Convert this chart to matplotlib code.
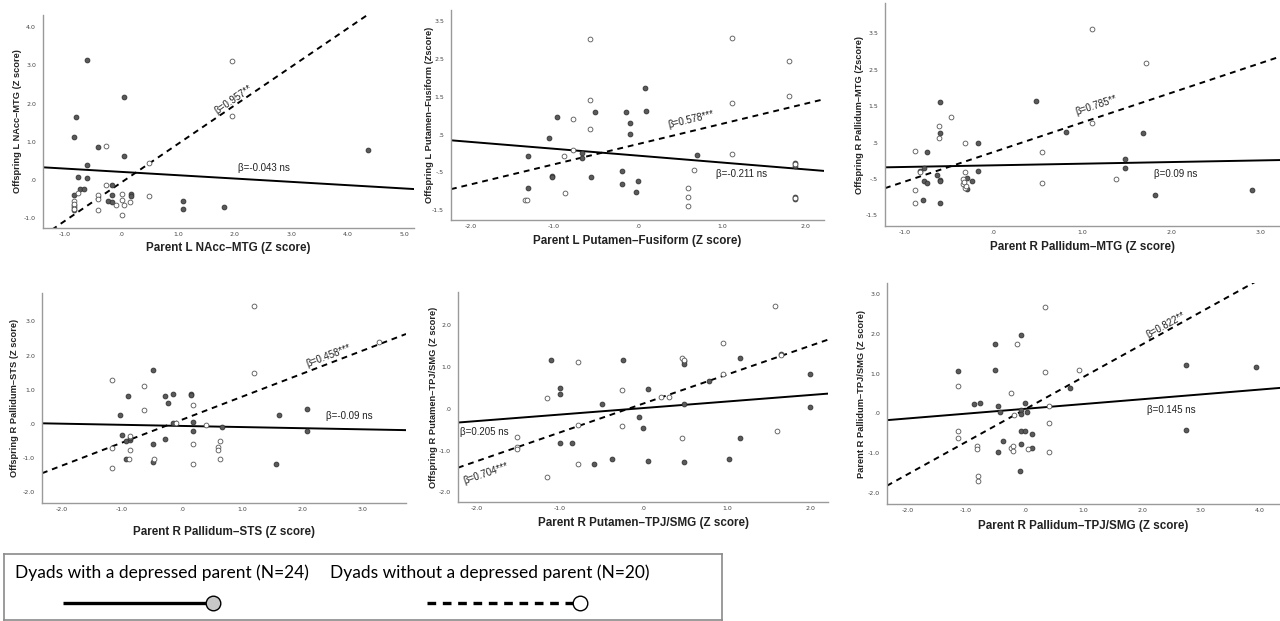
import matplotlib
matplotlib.use('Agg')
import matplotlib.pyplot as plt
import numpy as np
from matplotlib.ticker import FuncFormatter

# panel 1: L NAcc-MTG
p1_dep_x = [-0.61, 0.05, -0.79, -0.83, -0.41, 0.05, -0.61, -0.76, -0.61, -0.72, -0.65, -0.83,
            -0.17, -0.17, -0.24, -0.17, 0.18, 0.18, 1.09, 1.09, 1.82, 4.36, -0.83, -0.83]
p1_dep_y = [3.14, 2.16, 1.66, 1.13, 0.87, 0.63, 0.38, 0.07, 0.05, -0.24, -0.24, -0.40,
            -0.14, -0.40, -0.56, -0.58, -0.38, -0.42, -0.55, -0.76, -0.70, 0.79, -0.79, -0.72]
p1_ctl_x = [1.96, 1.96, -0.27, 0.50, -0.27, 0.01, -0.41, -0.41, -0.76, -0.83,
            -0.83, 0.01, -0.09, 0.05, 0.15, 0.50, -0.41, 0.01, -0.83, -0.83]
p1_ctl_y = [3.12, 1.68, 0.90, 0.44, -0.14, -0.36, -0.40, -0.50, -0.35, -0.56,
            -0.67, -0.52, -0.67, -0.67, -0.58, -0.42, -0.79, -0.91, -0.62, -0.76]

# panel 2: L Putamen-Fusiform
p2_dep_x = [-1.31, -1.31, -1.06, -0.97, -1.03, -1.03, -0.67, -0.67, -0.56, -0.51, -0.19, -0.19,
            -0.14, -0.09, -0.09, 0.08, 0.10, 0.00, -0.02, 0.71, 1.87, 1.87, 1.87, 1.87]
p2_dep_y = [-0.06, -0.91, 0.41, 0.96, -0.59, -0.63, 0.01, -0.13, -0.63, 1.10, -0.46, -0.81,
            1.10, 0.82, 0.51, 1.74, 1.13, -0.72, -1.01, -0.05, -0.25, -0.33, -1.15, -1.20]
p2_ctl_x = [-0.57, -0.57, -0.57, -0.78, -0.78, -0.88, -0.87, -1.35, -1.32, 1.12,
            1.12, 1.12, 1.80, 1.80, 0.67, 0.60, 0.60, 0.60, 1.87, 1.87]
p2_ctl_y = [3.03, 1.42, 0.66, 0.91, 0.10, -0.07, -1.05, -1.24, -1.24, 3.05,
            1.35, 0.00, 2.44, 1.52, -0.43, -0.92, -1.14, -1.40, -0.29, -1.17]

# panel 3: R Pallidum-MTG
p3_dep_x = [-0.60, -0.60, -0.75, -0.78, -0.83, -0.63, -0.60, -0.78, -0.75, -0.79, -0.60, -0.18,
            -0.18, -0.30, -0.24, -0.30, 0.48, 0.81, 1.68, 1.48, 1.48, 1.81, 2.90, -0.60]
p3_dep_y = [1.60, 0.76, 0.23, -0.21, -0.28, -0.39, -0.53, -0.55, -0.60, -1.08, -1.15, 0.48,
            -0.27, -0.46, -0.55, -0.78, 1.65, 0.79, 0.76, 0.04, -0.19, -0.94, -0.79, -0.56]
p3_ctl_x = [1.11, 1.71, 1.11, -0.48, -0.61, -0.61, -0.88, -0.32, 0.55, 0.55,
            -0.32, -0.34, -0.34, -0.32, -0.88, -0.88, 1.38, -0.31, -0.33, -0.83]
p3_ctl_y = [3.61, 2.67, 1.05, 1.19, 0.96, 0.63, 0.27, 0.48, 0.24, -0.60,
            -0.31, -0.50, -0.64, -0.74, -0.80, -1.17, -0.51, -0.70, -0.58, -0.30]

# panel 4: R Pallidum-STS
p4_dep_x = [-0.48, -0.90, -1.04, -1.00, -0.93, -0.87, -0.93, -0.48, -0.48, -0.29, -0.16, -0.23,
            -0.29, 0.14, 0.18, 0.18, 0.67, 1.61, 1.56, 2.07, 2.07, -0.87, -0.16, 0.14]
p4_dep_y = [1.57, 0.81, 0.27, -0.31, -0.51, -0.47, -1.01, -0.58, -1.11, 0.81, 0.88, 0.62,
            -0.43, 0.88, 0.06, -0.21, -0.08, 0.25, -1.17, 0.43, -0.21, -0.42, 0.02, 0.86]
p4_ctl_x = [1.20, 1.20, 3.27, -1.17, -0.63, -0.63, 0.18, -0.11, 0.40, -1.17,
            -0.86, -0.86, -0.89, -1.17, -0.47, 0.18, 0.18, 0.63, 0.59, 0.59, 0.63]
p4_ctl_y = [3.45, 1.50, 2.39, 1.28, 1.12, 0.42, 0.56, 0.02, -0.02, -0.70,
            -0.36, -0.77, -1.01, -1.30, -1.01, -0.58, -1.18, -0.51, -0.68, -0.75, -1.01]

# panel 5: R Putamen-TPJ/SMG
p5_dep_x = [-1.11, -1.00, -1.00, -1.00, -0.85, -0.49, -0.38, -0.59, -0.24, -0.05, -0.01, 0.06,
            0.06, 0.48, 0.48, 0.48, 0.48, 0.78, 1.16, 1.16, 1.02, 1.65, 1.99, 1.99]
p5_dep_y = [1.17, 0.50, 0.35, -0.81, -0.81, 0.12, -1.20, -1.33, 1.16, -0.20, -0.45, 0.46,
            -1.26, 1.13, 1.06, 0.11, -1.27, 0.67, 1.22, -0.71, -1.20, 1.31, 0.83, 0.05]
p5_ctl_x = [1.58, 0.95, 0.95, 0.46, 0.21, 0.31, -0.26, -0.26, -0.78, -0.78,
            -0.78, -1.16, -1.51, -1.51, -1.51, -1.16, 0.46, 1.60, 1.65, 0.48]
p5_ctl_y = [2.45, 1.58, 0.83, 1.22, 0.28, 0.28, 0.45, -0.41, 1.11, -0.40,
            -1.33, 0.25, -0.67, -0.91, -0.96, -1.64, -0.71, -0.53, 1.29, 1.17]

# panel 6: R Pallidum-TPJ/SMG
p6_dep_x = [-1.14, -0.51, -0.51, -0.07, -0.87, -0.76, -0.45, -0.42, -0.38, -0.46, -0.07, -0.07,
            0.00, 0.03, -0.07, 0.00, 0.12, -0.07, 0.12, -0.09, 0.77, 2.74, 2.74, 3.94]
p6_dep_y = [1.06, 1.75, 1.09, 1.98, 0.23, 0.27, 0.18, 0.03, -0.70, -0.96, 0.08, -0.01,
            0.26, 0.03, -0.44, -0.44, -0.53, -0.76, -0.87, -1.46, 0.65, 1.21, -0.43, 1.17]
p6_ctl_x = [0.35, -0.14, 0.35, 0.92, -1.14, -0.24, -0.19, 0.41, 0.42, -1.14,
            -1.14, -0.81, -0.81, -0.24, -0.20, -0.20, 0.06, 0.42, -0.80, -0.80]
p6_ctl_y = [2.67, 1.74, 1.04, 1.10, 0.70, 0.51, -0.04, 0.18, -0.24, -0.45,
            -0.61, -0.81, -0.89, -0.87, -0.82, -0.94, -0.89, -0.96, -1.58, -1.69]

# fitted lines: (slope, intercept) for depressed (solid) and non-depressed (dashed)
dep_fit = [(-0.087, 0.21), (-0.182, -0.056), (0.045, -0.125), (-0.033, -0.057), (0.156, 0.016), (0.121, 0.114)]
ctl_fit = [(1.01, -0.07), (0.535, 0.25), (0.813, 0.24), (0.673, 0.128), (0.691, 0.124), (0.817, 0.10)]
dep_beta = ['β=-0.043 ns', 'β=-0.211 ns', 'β=0.09 ns', 'β=-0.09 ns', 'β=0.205 ns', 'β=0.145 ns']
ctl_beta = ['β=0.957**', 'β=0.578***', 'β=0.785**', 'β=0.458***', 'β=0.704***', 'β=0.822**']

x_labels = ['Parent L NAcc\u2013MTG (Z score)', 'Parent L Putamen\u2013Fusiform (Z score)',
            'Parent R Pallidum\u2013MTG (Z score)', 'Parent R Pallidum\u2013STS (Z score)',
            'Parent R Putamen\u2013TPJ/SMG (Z score)', 'Parent R Pallidum\u2013TPJ/SMG (Z score)']
y_labels = ['Offspring L NAcc\u2013MTG (Z score)', 'Offspring L Putamen\u2013Fusiform (Zscore)',
            'Offspring R Pallidum\u2013MTG (Zscore)', 'Offspring R Pallidum\u2013STS (Z score)',
            'Offspring R Putamen\u2013TPJ/SMG (Z score)', 'Parent R Pallidum\u2013TPJ/SMG (Z score)']

dep_x = [p1_dep_x, p2_dep_x, p3_dep_x, p4_dep_x, p5_dep_x, p6_dep_x]
dep_y = [p1_dep_y, p2_dep_y, p3_dep_y, p4_dep_y, p5_dep_y, p6_dep_y]
ctl_x = [p1_ctl_x, p2_ctl_x, p3_ctl_x, p4_ctl_x, p5_ctl_x, p6_ctl_x]
ctl_y = [p1_ctl_y, p2_ctl_y, p3_ctl_y, p4_ctl_y, p5_ctl_y, p6_ctl_y]

W, H = 1280, 621
fig = plt.figure(figsize=(12.8, 6.21), dpi=100, facecolor='white')


def pos(l, r, t, b):
    return [l / W, 1 - b / H, (r - l) / W, (b - t) / H]


def spss(v, p):
    s = '%.1f' % v
    if s.startswith('0'):
        s = s[1:]
    elif s.startswith('-0'):
        s = '-' + s[2:]
    return s


# layout per panel: box in pixels, limits, ticks, label positions
boxes = [(43, 414, 15, 228), (451, 824, 10, 220), (885, 1280, 3, 226),
         (42, 406, 293, 503), (458, 828, 292, 502), (887, 1280, 283, 504)]
xlims = [(-1.38, 5.17), (-2.23, 2.22), (-1.22, 3.22), (-2.33, 3.72), (-2.22, 2.21), (-2.35, 4.35)]
ylims = [(-1.26, 4.32), (-1.76, 3.80), (-1.79, 4.33), (-2.31, 3.83), (-2.23, 2.79), (-2.28, 3.28)]
xticks = [np.arange(-1, 6), np.arange(-2, 3), np.arange(-1, 4), np.arange(-2, 4), np.arange(-2, 3), np.arange(-2, 5)]
yticks = [np.arange(-1, 5), np.arange(-1.5, 4, 1), np.arange(-1.5, 4, 1), np.arange(-2, 4), np.arange(-2, 3), np.arange(-2, 4)]
ctl_txt = [(1.99, 2.09), (0.64, 0.89), (1.16, 1.51), (2.43, 2.0), (-1.89, -1.54), (2.41, 2.22)]
dep_txt = [(2.52, 0.31), (1.24, -0.54), (2.05, -0.36), (2.77, 0.24), (-1.91, -0.55), (2.49, 0.08)]
ylab_off = [-25, -21, -26, -27, -25, -25]   # px left of the y spine
xlab_off = [20, 21, 21, 29, 21, 22]         # px below the x spine

for i in range(6):
    l, r, t, b = boxes[i]
    ax = fig.add_axes(pos(l, r, t, b))
    ax.set_xlim(xlims[i])
    ax.set_ylim(ylims[i])
    for s in ['top', 'right']:
        ax.spines[s].set_visible(False)
    for s in ['left', 'bottom']:
        ax.spines[s].set_color('#9a9a9a')
        ax.spines[s].set_linewidth(1.0)
    ax.set_xticks(xticks[i])
    ax.set_yticks(yticks[i])
    ax.xaxis.set_major_formatter(FuncFormatter(spss))
    ax.yaxis.set_major_formatter(FuncFormatter(spss))
    ax.tick_params(length=0, labelsize=4.5, labelcolor='#444444')
    ax.tick_params(axis='x', pad=3)
    ax.tick_params(axis='y', pad=5)
    ax.set_xlabel(x_labels[i], fontsize=8.4, fontweight='bold', family='Liberation Sans', color='#222222')
    ax.set_ylabel(y_labels[i], fontsize=6.7, fontweight='bold', family='Liberation Sans', color='#222222')
    ax.xaxis.set_label_coords(0.5, -xlab_off[i] / (b - t))
    ax.yaxis.set_label_coords(ylab_off[i] / (r - l), 0.5)
    ax.xaxis.label.set_va('center')
    ax.yaxis.label.set_va('center')

    ax.scatter(dep_x[i], dep_y[i], s=12, facecolor='#5a5a5a', edgecolor='#333333', linewidths=0.6, zorder=3)
    ax.scatter(ctl_x[i], ctl_y[i], s=12, facecolor='white', edgecolor='#555555', linewidths=0.6, zorder=3)

    xx = np.array(xlims[i])
    a, c = dep_fit[i]
    ax.plot(xx, c + a * xx, color='black', lw=1.4, zorder=2)
    a2, c2 = ctl_fit[i]
    ax.plot(xx, c2 + a2 * xx, color='black', lw=1.4, dashes=(3, 2.5), zorder=2)

    # angle of dashed line on screen
    p0 = ax.transData.transform((xx[0], c2 + a2 * xx[0]))
    p1 = ax.transData.transform((xx[1], c2 + a2 * xx[1]))
    ang = np.degrees(np.arctan2(p1[1] - p0[1], p1[0] - p0[0]))
    ax.text(ctl_txt[i][0], ctl_txt[i][1], ctl_beta[i], rotation=ang, rotation_mode='anchor',
            ha='center', va='center', fontsize=7, family='Liberation Sans', color='#222222')
    ax.text(dep_txt[i][0], dep_txt[i][1], dep_beta[i], ha='center', va='center',
            fontsize=7, family='Liberation Sans', color='#222222')

# legend box
lg = fig.add_axes(pos(4, 722, 554, 620))
lg.set_xlim(4, 722)
lg.set_ylim(620, 554)
lg.set_xticks([])
lg.set_yticks([])
for s in lg.spines.values():
    s.set_color('#8a8a8a')
    s.set_linewidth(1.2)
lg.text(15, 573, 'Dyads with a depressed parent (N=24)', ha='left', va='center', fontsize=12.5, family='Lato', color='black')
lg.text(330, 573, 'Dyads without a depressed parent (N=20)', ha='left', va='center', fontsize=12.5, family='Lato', color='black')
lg.plot([63, 206], [603, 603], color='black', lw=2.4, solid_capstyle='butt')
lg.plot([213], [603], marker='o', markersize=10.5, markerfacecolor='#c8c8c8', markeredgecolor='black', markeredgewidth=1.0)
lg.plot([427, 573], [603, 603], color='black', lw=2.4, dashes=(2.6, 2.0))
lg.plot([580], [603], marker='o', markersize=10.5, markerfacecolor='white', markeredgecolor='black', markeredgewidth=1.0)

fig.savefig('out.png', dpi=100, facecolor='white')
